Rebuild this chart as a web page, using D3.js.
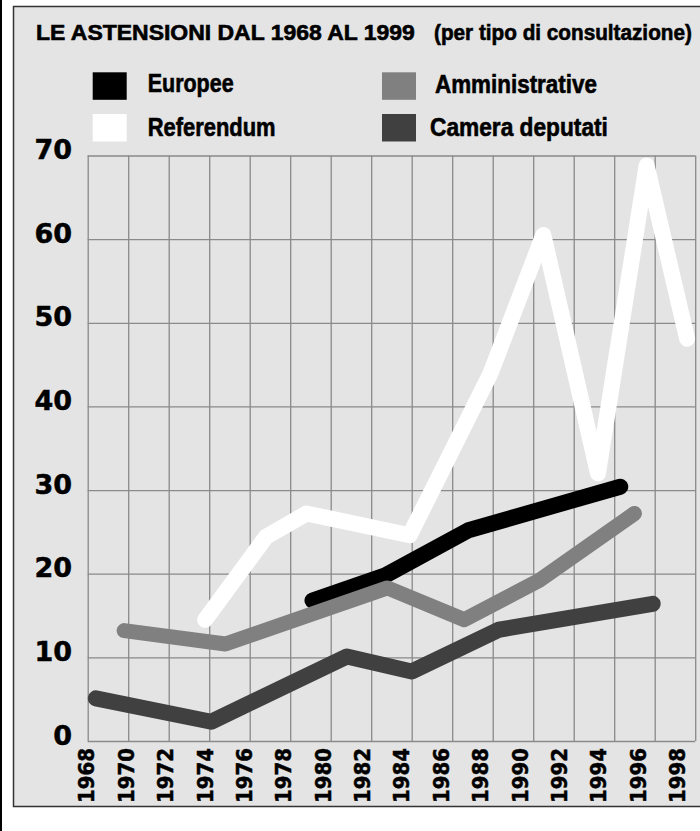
<!DOCTYPE html>
<html>
<head>
<meta charset="utf-8">
<script src="https://cdn.jsdelivr.net/npm/d3@7"></script>
<style>
  body { margin: 0; background: #fff; }
  svg { display: block; }
</style>
</head>
<body>
<div id="chart"></div>
<script>
// Data (years are where the line bends)
const xTicks = ["1968","1970","1972","1974","1976","1978","1980","1982","1984","1986","1988","1990","1992","1994","1996","1998"];
const yTicks = [0, 10, 20, 30, 40, 50, 60, 70];

const referendumYears  = [1973.8, 1976.8, 1978.8, 1983.9, 1987.9, 1990.5, 1993.2, 1995.6, 1997.6];
const referendumValues = [14.5, 24.4, 27.2, 24.6, 44.0, 60.5, 32.0, 68.8, 48.1];

const europeeYears  = [1979.1, 1982.7, 1986.8, 1994.3];
const europeeValues = [16.8, 19.8, 25.2, 30.4];

const amministrativeYears  = [1969.8, 1974.8, 1982.8, 1986.6, 1990.3, 1995.0];
const amministrativeValues = [13.2, 11.6, 18.3, 14.5, 19.2, 27.2];

const cameraYears  = [1968.4, 1974.1, 1980.8, 1984.0, 1988.3, 1995.9];
const cameraValues = [5.1, 2.3, 10.1, 8.3, 13.3, 16.4];

const width = 700;
const height = 831;

const svg = d3.select("#chart")
    .append("svg")
    .attr("width", width)
    .attr("height", height)
    .style("background", "#fff");

// Squeeze a text horizontally so it fills a given width (fakes a condensed face)
function condense(sel, x, y, w) {
    sel.each(function() {
        const natural = this.getComputedTextLength();
        d3.select(this).attr("transform", `translate(${x},${y}) scale(${w / natural},1)`);
    });
}

// Frame
svg.append("line")
    .attr("x1", 1).attr("x2", 1)
    .attr("y1", 0).attr("y2", height)
    .attr("stroke", "#000")
    .attr("stroke-width", 2);

svg.append("rect")
    .attr("x", 13.5)
    .attr("y", 6.5)
    .attr("width", 700)
    .attr("height", 800)
    .attr("fill", "#e4e4e4")
    .attr("stroke", "#333")
    .attr("stroke-width", 1.5);

// Scales
const x = d3.scaleLinear()
    .domain([1968, 1998])
    .range([87.7, 695.2]);

const xLabel = d3.scaleLinear()
    .domain([1968, 1998])
    .range([86, 676.7]);

const y = d3.scaleLinear()
    .domain([0, 70])
    .range([741, 155.5]);

// Vertical grid
svg.append("g")
    .attr("transform", `translate(0,${y(0)})`)
    .call(d3.axisBottom(x)
        .tickValues(xTicks.map(Number))
        .tickSize(-(y(0) - y(70)))
        .tickFormat(""))
    .call(g => g.select(".domain").remove());

// Horizontal grid + y labels
svg.append("g")
    .attr("transform", `translate(${x(1968)},0)`)
    .call(d3.axisLeft(y)
        .tickValues(yTicks)
        .tickSize(-(x(1998) - x(1968)))
        .tickPadding(15.7))
    .call(g => g.select(".domain").remove())
    .selectAll("text")
    .attr("dy", "3px")
    .attr("fill", "#000")
    .attr("stroke", "#000")
    .attr("stroke-width", 0.5)
    .style("font-family", "'DejaVu Sans', sans-serif")
    .style("font-weight", "bold")
    .style("font-size", "27px");

svg.selectAll(".tick line")
    .attr("stroke", "#8a8a8a")
    .attr("stroke-width", 1.3);

// X labels (rotated)
svg.append("g")
    .attr("transform", `translate(0,${y(0)})`)
    .call(d3.axisBottom(xLabel)
        .tickValues(xTicks.map(Number))
        .tickSize(0)
        .tickFormat(d3.format("d")))
    .call(g => g.select(".domain").remove())
    .selectAll("text")
    .attr("transform", "rotate(-90)")
    .attr("x", -7)
    .attr("y", 0)
    .attr("dy", "0.36em")
    .attr("textLength", 55)
    .attr("lengthAdjust", "spacingAndGlyphs")
    .style("text-anchor", "end")
    .attr("fill", "#000")
    .attr("stroke", "#000")
    .attr("stroke-width", 0.5)
    .style("font-family", "'DejaVu Sans', sans-serif")
    .style("font-weight", "bold")
    .style("font-size", "22px");

// Lines
const series = [
    { years: referendumYears, values: referendumValues, color: "#ffffff", w: 16 },
    { years: europeeYears, values: europeeValues, color: "#000000", w: 16 },
    { years: amministrativeYears, values: amministrativeValues, color: "#808080", w: 15 },
    { years: cameraYears, values: cameraValues, color: "#404040", w: 16 }
];

const line = d3.line()
    .x(d => x(d[0]))
    .y(d => y(d[1]));

svg.append("g")
    .selectAll("path")
    .data(series)
    .join("path")
    .attr("d", s => line(d3.zip(s.years, s.values)))
    .attr("fill", "none")
    .attr("stroke", s => s.color)
    .attr("stroke-width", s => s.w)
    .attr("stroke-linecap", "round")
    .attr("stroke-linejoin", "round");

// Title
const condensed = "'Liberation Sans Narrow', 'Arial Narrow', 'Liberation Sans', Arial, sans-serif";

svg.append("text")
    .attr("fill", "#000")
    .attr("stroke", "#000")
    .attr("stroke-width", 0.6)
    .style("font-family", condensed)
    .style("font-weight", "bold")
    .style("font-size", "21.5px")
    .text("LE ASTENSIONI DAL 1968 AL 1999")
    .call(condense, 36, 40, 379);

svg.append("text")
    .attr("fill", "#000")
    .attr("stroke", "#000")
    .attr("stroke-width", 0.6)
    .style("font-family", condensed)
    .style("font-weight", "bold")
    .style("font-size", "21.5px")
    .text("(per tipo di consultazione)")
    .call(condense, 434, 40, 258);

// Legend
const legendNames = ["Europee", "Referendum", "Amministrative", "Camera deputati"];
const legendColors = ["#000000", "#ffffff", "#808080", "#404040"];
const legendBox = [[92.7, 72.3], [92.7, 114], [382, 72.3], [382, 114]];
const legendText = [[147.7, 92.3, 86], [147.7, 136, 128], [435, 93.3, 162], [430, 136, 178]];

const legend = svg.append("g")
    .selectAll("g")
    .data(legendNames)
    .join("g");

legend.append("rect")
    .attr("x", (d, i) => legendBox[i][0])
    .attr("y", (d, i) => legendBox[i][1])
    .attr("width", 34)
    .attr("height", 27.5)
    .attr("fill", (d, i) => legendColors[i]);

legend.append("text")
    .attr("fill", "#000")
    .attr("stroke", "#000")
    .attr("stroke-width", 0.6)
    .style("font-family", condensed)
    .style("font-weight", "bold")
    .style("font-size", "25px")
    .text(d => d)
    .each(function(d, i) {
        d3.select(this).call(condense, legendText[i][0], legendText[i][1], legendText[i][2]);
    });
</script>
</body>
</html>
